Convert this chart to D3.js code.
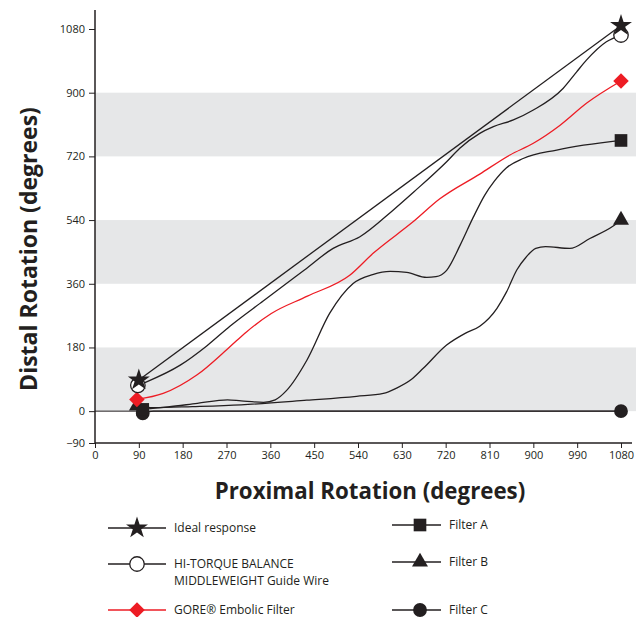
<!DOCTYPE html>
<meta charset="utf-8">
<style>
  body { margin: 0; background: #fff; }
  text { font-family: "Open Sans", "Noto Sans", sans-serif; fill: #231f20; }
  .tick text { font-size: 11px; }
  .legend text { font-size: 12px; }
  .title { font-weight: bold; }
</style>
<svg width="636" height="617"></svg>
<script src="https://d3js.org/d3.v7.min.js"></script>
<script>

// values (proximal deg -> distal deg)
var idealX = [90, 1080];
var idealY = [88, 1090];

var hiX = [88, 106, 175, 230, 277, 346, 430, 489, 544, 612, 655, 722, 749, 790, 818, 859, 900, 961, 989, 1009, 1050, 1080];
var hiY = [73, 83, 130, 185, 240, 312, 399, 460, 493, 568, 620, 705, 743, 785, 804, 823, 851, 912, 959, 992, 1044, 1063];

var goreX = [86, 140, 209, 277, 311, 362, 436, 523, 571, 653, 708, 790, 852, 900, 955, 1009, 1080];
var goreY = [33, 50, 102, 182, 224, 276, 325, 384, 446, 535, 600, 670, 724, 757, 808, 870, 933];

var filterAX = [98, 150, 210, 272, 300, 346, 370, 393, 435, 482, 530, 570, 606, 640, 681, 700, 722, 750, 777, 800, 820, 845, 879, 948, 1080];
var filterAY = [5, 12, 22, 32, 29, 25, 32, 58, 144, 277, 361, 386, 395, 392, 378, 380, 398, 470, 549, 610, 650, 688, 714, 738, 765];

var filterBX = [86, 120, 200, 300, 435, 537, 592, 619, 650, 674, 722, 760, 790, 825, 845, 866, 885, 905, 925, 975, 1016, 1064, 1080];
var filterBY = [15, 10, 13, 18, 31, 42, 50, 65, 90, 121, 187, 220, 240, 290, 337, 399, 435, 460, 465, 460, 488, 523, 540];

var filterCX = [98, 120, 1080];
var filterCY = [-6, 0, 0];

var xTicks = [0, 90, 180, 270, 360, 450, 540, 630, 720, 810, 900, 990, 1080];
var yTicks = [-90, 0, 180, 360, 540, 720, 900, 1080];
var bands = [[0, 180], [360, 540], [720, 900]];

var series = [
  { name: 'Ideal response', xs: idealX, ys: idealY, color: '#231f20', symbol: 'star' },
  { name: 'HI-TORQUE BALANCE|MIDDLEWEIGHT Guide Wire', xs: hiX, ys: hiY, color: '#231f20', symbol: 'open' },
  { name: 'GORE\u00ae Embolic Filter', xs: goreX, ys: goreY, color: '#ed1c24', symbol: 'diamond' },
  { name: 'Filter A', xs: filterAX, ys: filterAY, color: '#231f20', symbol: 'square' },
  { name: 'Filter B', xs: filterBX, ys: filterBY, color: '#231f20', symbol: 'triangle' },
  { name: 'Filter C', xs: filterCX, ys: filterCY, color: '#231f20', symbol: 'circle' }
];

var svg = d3.select('svg');

var x = d3.scaleLinear().domain([0, 1080]).range([95, 621]);
var y = d3.scaleLinear().domain([-90, 1080]).range([443, 29]);

// grey bands
svg.append('g').selectAll('rect')
  .data(bands)
  .enter().append('rect')
    .attr('x', x(0))
    .attr('width', 636 - x(0))
    .attr('y', function(d) { return y(d[1]); })
    .attr('height', function(d) { return y(d[0]) - y(d[1]); })
    .attr('fill', '#e6e7e8');

// axes
var fmt = d3.format('d');
var yAxis = svg.append('g')
  .attr('transform', 'translate(' + x(0) + ',0)')
  .call(d3.axisLeft(y).tickValues(yTicks).tickFormat(function(d) { return fmt(d).replace('-', '\u2212'); }).tickSize(6).tickPadding(4));
yAxis.select('.domain').remove();
svg.append('line')
  .attr('x1', x(0)).attr('x2', x(0))
  .attr('y1', 10).attr('y2', y(-90))
  .attr('stroke', '#231f20').attr('stroke-width', 1.5);

var xAxis = svg.append('g')
  .attr('transform', 'translate(0,' + y(-90) + ')')
  .call(d3.axisBottom(x).tickValues(xTicks).tickFormat(fmt).tickSize(5).tickPadding(3));
xAxis.select('.domain').remove();
svg.append('line')
  .attr('x1', x(0)).attr('x2', 632)
  .attr('y1', y(-90)).attr('y2', y(-90))
  .attr('stroke', '#231f20').attr('stroke-width', 1.5);

svg.selectAll('.tick line').attr('stroke', '#231f20');

// zero line
svg.append('line')
  .attr('x1', x(0)).attr('x2', x(1080))
  .attr('y1', y(0)).attr('y2', y(0))
  .attr('stroke', '#231f20').attr('stroke-width', 1);

// titles
svg.append('text')
  .attr('class', 'title')
  .attr('transform', 'translate(37,249) rotate(-90)')
  .attr('text-anchor', 'middle')
  .attr('font-size', 23)
  .text('Distal Rotation (degrees)');

svg.append('text')
  .attr('class', 'title')
  .attr('x', 370).attr('y', 499)
  .attr('text-anchor', 'middle')
  .attr('font-size', 22.3)
  .text('Proximal Rotation (degrees)');

// markers
function symbolPath(kind) {
  var s;
  if (kind === 'star') s = d3.symbol().type(d3.symbolStar).size(150);
  else if (kind === 'open' || kind === 'circle') s = d3.symbol().type(d3.symbolCircle).size(kind === 'open' ? 165 : 150);
  else if (kind === 'diamond') s = d3.symbol().type(d3.symbolSquare).size(120);
  else if (kind === 'square') s = d3.symbol().type(d3.symbolSquare).size(160);
  else s = d3.symbol().type(d3.symbolTriangle).size(110);
  return s();
}

function drawMarker(g, kind, color, px, py) {
  var p = g.append('path')
    .attr('d', symbolPath(kind))
    .attr('transform', 'translate(' + px + ',' + py + ')' + (kind === 'diamond' ? ' rotate(45)' : ''));
  if (kind === 'open') p.attr('fill', '#fff').attr('stroke', '#231f20').attr('stroke-width', 1.3);
  else p.attr('fill', color);
}

var line = d3.line()
  .x(function(d) { return x(d[0]); })
  .y(function(d) { return y(d[1]); })
  .curve(d3.curveMonotoneX);

var plot = svg.append('g');
// draw lower series first so the upper ones sit on top
series.slice().reverse().forEach(function(s) {
  var pts = s.xs.map(function(v, i) { return [v, s.ys[i]]; });
  plot.append('path')
    .datum(pts)
    .attr('d', line)
    .attr('fill', 'none')
    .attr('stroke', s.color)
    .attr('stroke-width', 1.3);
});
series.slice().reverse().forEach(function(s) {
  var n = s.xs.length - 1;
  drawMarker(plot, s.symbol, s.color, x(s.xs[0]), y(s.ys[0]));
  drawMarker(plot, s.symbol, s.color, x(s.xs[n]), y(s.ys[n]));
});

// legend
var legendPos = [
  { lx: 108, rx: 166, mx: 137, tx: 174, y: 528 },
  { lx: 108, rx: 166, mx: 137, tx: 174, y: 564 },
  { lx: 108, rx: 166, mx: 137, tx: 174, y: 610 },
  { lx: 392, rx: 441, mx: 420, tx: 449, y: 525 },
  { lx: 392, rx: 441, mx: 420, tx: 449, y: 562 },
  { lx: 392, rx: 441, mx: 420, tx: 449, y: 610 }
];
var legend = svg.append('g').attr('class', 'legend');
series.forEach(function(s, i) {
  var p = legendPos[i];
  legend.append('line')
    .attr('x1', p.lx).attr('x2', p.rx)
    .attr('y1', p.y).attr('y2', p.y)
    .attr('stroke', s.color).attr('stroke-width', 1.3);
  drawMarker(legend, s.symbol, s.color, p.mx, p.y);
  var t = legend.append('text').attr('x', p.tx).attr('y', p.y + 4);
  s.name.split('|').forEach(function(part, k) {
    t.append('tspan').attr('x', p.tx).attr('dy', k === 0 ? 0 : 17).text(part);
  });
});

</script>
